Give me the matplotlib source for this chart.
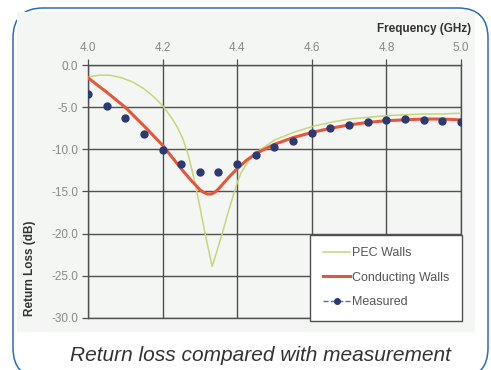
import matplotlib
matplotlib.use('Agg')
import matplotlib.pyplot as plt
from matplotlib.patches import FancyBboxPatch, Rectangle
from matplotlib.lines import Line2D

plt.rcParams['font.family'] = ['Liberation Sans', 'DejaVu Sans']

# measured return loss (dB), every 0.05 GHz
meas_freq = [4.00, 4.05, 4.10, 4.15, 4.20, 4.25, 4.30, 4.35, 4.40, 4.45, 4.50,
             4.55, 4.60, 4.65, 4.70, 4.75, 4.80, 4.85, 4.90, 4.95, 5.00]
meas_rl = [-3.4, -4.9, -6.3, -8.2, -10.1, -11.7, -12.7, -12.7, -11.7, -10.7, -9.7,
           -9.0, -8.1, -7.5, -7.1, -6.7, -6.5, -6.4, -6.5, -6.6, -6.7]

# simulation, conducting walls
cond_freq = [4.00, 4.05, 4.10, 4.15, 4.20, 4.225, 4.25, 4.275, 4.29, 4.30, 4.31,
             4.32, 4.33, 4.34, 4.35, 4.36, 4.38, 4.40, 4.425, 4.45, 4.50, 4.55,
             4.60, 4.65, 4.70, 4.75, 4.80, 4.85, 4.90, 4.95, 5.00]
cond_rl = [-1.5, -3.2, -5.0, -7.2, -9.5, -10.9, -12.3, -13.6, -14.3, -14.8, -15.1,
           -15.3, -15.3, -15.1, -14.7, -14.2, -13.2, -12.3, -11.3, -10.5, -9.4, -8.6,
           -8.0, -7.5, -7.1, -6.8, -6.6, -6.5, -6.4, -6.4, -6.5]

# simulation, PEC walls
pec_freq = [4.00, 4.03, 4.06, 4.09, 4.12, 4.15, 4.175, 4.20, 4.225, 4.24, 4.255,
            4.27, 4.285, 4.30, 4.315, 4.333, 4.345, 4.36, 4.375, 4.39, 4.40, 4.41,
            4.43, 4.45, 4.50, 4.55, 4.60, 4.65, 4.70, 4.75, 4.80, 4.85, 4.90,
            4.95, 5.00]
pec_rl = [-1.4, -1.2, -1.2, -1.5, -2.0, -2.8, -3.7, -4.8, -6.3, -7.4, -8.8,
          -10.8, -13.6, -16.8, -20.2, -23.9, -22.2, -20.0, -17.6, -15.4, -14.0, -12.8,
          -11.4, -10.4, -8.9, -8.0, -7.3, -6.8, -6.4, -6.2, -6.0, -5.9, -5.8,
          -5.8, -5.7]

x_ticks = [4.0, 4.2, 4.4, 4.6, 4.8, 5.0]
y_ticks = [0, -5, -10, -15, -20, -25, -30]

BG = '#f3f6f2'
GRID = '#505050'
GREEN = '#c6d67a'
RED = '#e5573b'
NAVY = '#2c3a72'

fig = plt.figure(figsize=(4.91, 3.70), dpi=100)

# panel: rounded blue frame + light chart area
frame = FancyBboxPatch((0.13, -0.08), 4.75, 3.70, boxstyle='round,pad=0,rounding_size=0.3',
                       transform=fig.dpi_scale_trans, facecolor='white',
                       edgecolor='#2a6cb8', linewidth=1.1, zorder=-2)
fig.patches.append(frame)
fig.patches.append(Rectangle((0.0346, 0.1027), 0.933, 0.865, transform=fig.transFigure,
                             facecolor=BG, edgecolor='none', zorder=-1))

ax = fig.add_axes([0.179, 0.141, 0.760, 0.683])
ax.set_facecolor(BG)

ax.plot(pec_freq, pec_rl, color=GREEN, lw=1.1, zorder=3)
ax.plot(cond_freq, cond_rl, color=RED, lw=2.2, zorder=4)
ax.plot(meas_freq, meas_rl, ls='none', marker='o', ms=5, color=NAVY, zorder=5)

ax.set_xlim(4.0, 5.0)
ax.set_ylim(-30, 0)
ax.set_xticks(x_ticks)
ax.set_xticklabels([f'{v:.1f}' for v in x_ticks])
ax.set_yticks(y_ticks)
ax.set_yticklabels([f'{v:.1f}' for v in y_ticks])
ax.xaxis.tick_top()
ax.tick_params(axis='both', direction='out', length=4, width=0.9, color=GRID,
               labelsize=8.5, labelcolor='#8a8a8a')
ax.tick_params(axis='x', pad=4)
ax.tick_params(axis='y', pad=3)
ax.grid(True, color=GRID, lw=1.0)
for s in ax.spines.values():
    s.set_color(GRID)
    s.set_linewidth(1.0)

ax.text(1.027, 1.142, 'Frequency (GHz)', transform=ax.transAxes, ha='right', va='center',
        fontsize=8.5, fontweight='bold', color='#333333')
fig.text(0.061, 0.276, 'Return Loss (dB)', rotation=90, ha='center', va='center',
         fontsize=8.5, fontweight='bold', color='#333333')

handles = [Line2D([], [], color=GREEN, lw=1.1),
           Line2D([], [], color=RED, lw=2.2),
           Line2D([], [], color='#5570b0', lw=1.0, ls='--', marker='o', ms=4, mfc=NAVY, mec=NAVY)]
leg = ax.legend(handles, ['PEC Walls', 'Conducting Walls', 'Measured'],
                loc='lower right', bbox_to_anchor=(1.003, -0.012), fontsize=9,
                labelspacing=1.0, handlelength=2.2, handletextpad=0.15,
                borderpad=1.0, borderaxespad=0, fancybox=False, framealpha=1,
                edgecolor=GRID)
for t in leg.get_texts():
    t.set_color('#555555')
leg.get_frame().set_linewidth(1.0)
leg.set_zorder(6)

fig.text(0.53, 0.04, 'Return loss compared with measurement', ha='center', va='center',
         fontsize=15, style='italic', color='#333333')

fig.savefig('out.png', dpi=100)
